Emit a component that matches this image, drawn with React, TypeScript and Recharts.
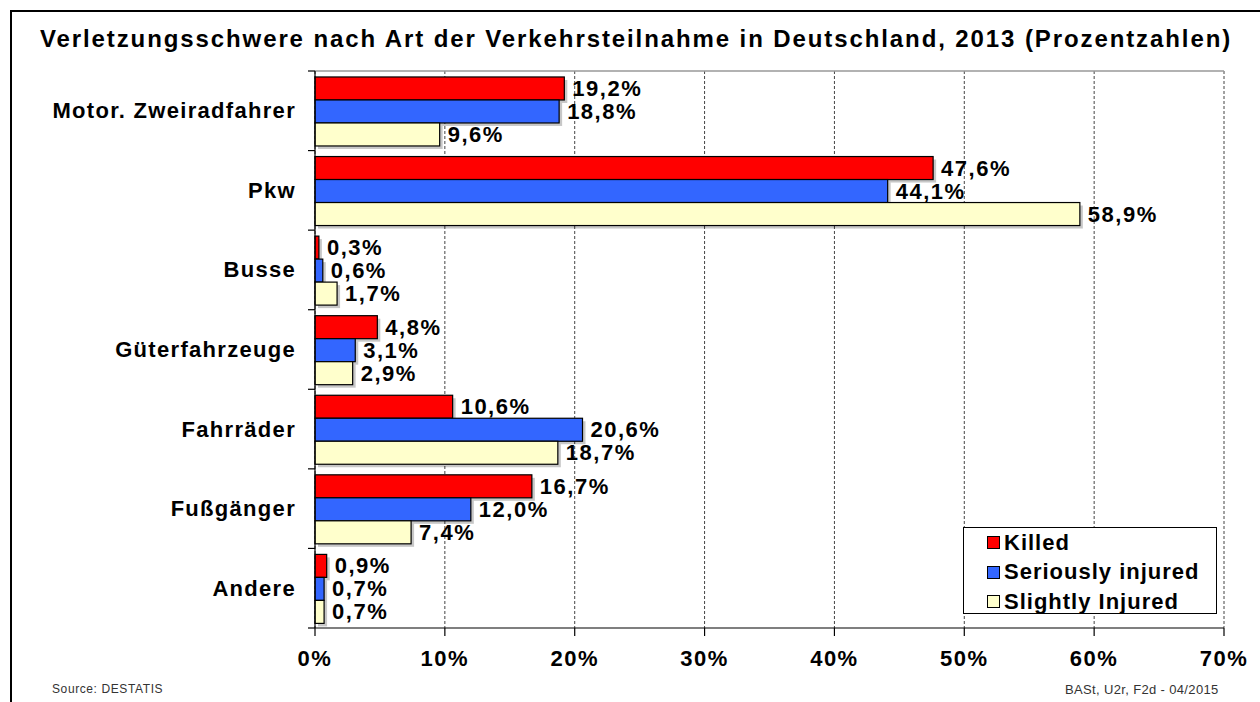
import React from "react";
import {
  BarChart,
  Bar,
  XAxis,
  YAxis,
  CartesianGrid,
  LabelList,
  Legend,
  ReferenceLine,
} from "recharts";

const categories = [
  "Motor. Zweiradfahrer",
  "Pkw",
  "Busse",
  "Güterfahrzeuge",
  "Fahrräder",
  "Fußgänger",
  "Andere",
];
const killed = [19.2, 47.6, 0.3, 4.8, 10.6, 16.7, 0.9];
const seriouslyInjured = [18.8, 44.1, 0.6, 3.1, 20.6, 12.0, 0.7];
const slightlyInjured = [9.6, 58.9, 1.7, 2.9, 18.7, 7.4, 0.7];
const xTicks = [0, 10, 20, 30, 40, 50, 60, 70];

const seriesNames = ["Killed", "Seriously injured", "Slightly Injured"];
const seriesColors = ["#FF0000", "#3366FF", "#FFFFCC"];

const data = categories.map((name, i) => ({
  name,
  killed: killed[i],
  serious: seriouslyInjured[i],
  slight: slightlyInjured[i],
}));

const FONT = "'Liberation Sans', Arial, sans-serif";
const W = 1260;
const H = 702;
const M = { top: 71, right: 36, bottom: 0, left: 0 };
const Y_AXIS_W = 315;
const X_AXIS_H = 74;
const Y_TICK_SIZE = 7;
const Y_TICK_MARGIN = 12;
const PLOT_H = H - M.top - M.bottom - X_AXIS_H;
const BAND = PLOT_H / categories.length;

const fmt = (v: number) => `${v.toFixed(1).replace(".", ",")}%`;

const ShadowBar = (props: any) => {
  const { x, y, width, height, fill } = props;
  if (width == null || height == null) return null;
  return (
    <g>
      <rect x={x + 3} y={y + 3} width={width} height={height} fill="#000" opacity={0.22} />
      <rect x={x} y={y} width={width} height={height} fill={fill} stroke="#000" strokeWidth={1.2} />
    </g>
  );
};

const ValueLabel = (props: any) => {
  const { x, y, width, height, value } = props;
  return (
    <text
      x={x + width + 8}
      y={y + height / 2}
      dominantBaseline="central"
      fontFamily={FONT}
      fontWeight="bold"
      fontSize={22}
      letterSpacing={1.5}
      fill="#000"
    >
      {fmt(value)}
    </text>
  );
};

const XTick = (props: any) => {
  const { x, y, payload } = props;
  return (
    <text
      x={x}
      y={y}
      dy={14}
      textAnchor="middle"
      dominantBaseline="central"
      fontFamily={FONT}
      fontWeight="bold"
      fontSize={22}
      letterSpacing={1.5}
      fill="#000"
    >
      {`${payload.value}%`}
    </text>
  );
};

const YTick = (props: any) => {
  const { x, y, payload, index } = props;
  const axisX = x + Y_TICK_SIZE + Y_TICK_MARGIN;
  return (
    <g>
      <line x1={axisX - 7} x2={axisX} y1={y - BAND / 2} y2={y - BAND / 2} stroke="#000" strokeWidth={1.2} />
      {index === categories.length - 1 && (
        <line x1={axisX - 7} x2={axisX} y1={y + BAND / 2} y2={y + BAND / 2} stroke="#000" strokeWidth={1.2} />
      )}
      <text
        x={x}
        y={y}
        textAnchor="end"
        dominantBaseline="central"
        fontFamily={FONT}
        fontWeight="bold"
        fontSize={22}
        letterSpacing={1.3}
        fill="#000"
      >
        {payload.value}
      </text>
    </g>
  );
};

const LegendBox = () => (
  <div
    style={{
      width: 254,
      height: 87,
      border: "1px solid #000",
      background: "#fff",
      boxSizing: "border-box",
      paddingTop: 0,
      paddingLeft: 23,
      fontFamily: FONT,
      fontWeight: "bold",
      fontSize: 22,
      color: "#000",
    }}
  >
    {seriesNames.map((n, i) => (
      <div key={n} style={{ display: "flex", alignItems: "center", height: 29.5, whiteSpace: "nowrap" }}>
        <span
          style={{
            display: "inline-block",
            width: 11,
            height: 11,
            background: seriesColors[i],
            border: "1px solid #000",
            marginRight: 4,
          }}
        />
        <span style={{ letterSpacing: 1 }}>{n}</span>
      </div>
    ))}
  </div>
);

export default function App() {
  return (
    <div style={{ position: "absolute", left: 0, top: 0, width: W, height: H, background: "#fff", overflow: "hidden" }}>
      <div style={{ position: "absolute", left: 11, top: 10, width: W, height: 2, background: "#000" }} />
      <div style={{ position: "absolute", left: 10, top: 10, width: 2, height: H, background: "#000" }} />
      <div
        style={{
          position: "absolute",
          left: 11,
          width: 1250,
          top: 25,
          textAlign: "center",
          fontFamily: FONT,
          fontWeight: "bold",
          fontSize: 24,
          letterSpacing: 1.9,
          color: "#000",
          whiteSpace: "nowrap",
        }}
      >
        Verletzungsschwere nach Art der Verkehrsteilnahme in Deutschland, 2013 (Prozentzahlen)
      </div>
      <div style={{ position: "absolute", left: 52, top: 682, fontFamily: FONT, fontSize: 12, letterSpacing: 0.6, color: "#333" }}>
        Source: DESTATIS
      </div>
      <div style={{ position: "absolute", left: 1065, top: 682, fontFamily: FONT, fontSize: 13, letterSpacing: 0.35, color: "#333" }}>
        BASt, U2r, F2d - 04/2015
      </div>
      <div style={{ position: "absolute", left: 0, top: 0 }}>
        <BarChart
          width={W}
          height={H}
          data={data}
          layout="vertical"
          margin={M}
          barCategoryGap="7.5%"
          barGap={0}
        >
          <CartesianGrid horizontal={false} vertical={true} stroke="#444" strokeDasharray="3 2" />
          <ReferenceLine y={categories[0]} position="start" stroke="#999" strokeWidth={1.5} ifOverflow="visible" />
          <XAxis
            type="number"
            domain={[0, 70]}
            ticks={xTicks}
            height={X_AXIS_H}
            tickSize={8}
            tickMargin={8}
            axisLine={{ stroke: "#000", strokeWidth: 1.2 }}
            tickLine={{ stroke: "#000", strokeWidth: 1.2 }}
            tick={<XTick />}
            interval={0}
          />
          <YAxis
            type="category"
            dataKey="name"
            width={Y_AXIS_W}
            tickSize={Y_TICK_SIZE}
            tickMargin={Y_TICK_MARGIN}
            tickLine={false}
            axisLine={{ stroke: "#000", strokeWidth: 1.2 }}
            tick={<YTick />}
            interval={0}
          />
          <Legend
            layout="vertical"
            align="center"
            verticalAlign="middle"
            content={() => <LegendBox />}
            wrapperStyle={{ left: 963, top: 527, width: 254, height: 87 }}
          />
          <Bar dataKey="killed" name={seriesNames[0]} fill={seriesColors[0]} shape={<ShadowBar />} isAnimationActive={false}>
            <LabelList dataKey="killed" content={<ValueLabel />} />
          </Bar>
          <Bar dataKey="serious" name={seriesNames[1]} fill={seriesColors[1]} shape={<ShadowBar />} isAnimationActive={false}>
            <LabelList dataKey="serious" content={<ValueLabel />} />
          </Bar>
          <Bar dataKey="slight" name={seriesNames[2]} fill={seriesColors[2]} shape={<ShadowBar />} isAnimationActive={false}>
            <LabelList dataKey="slight" content={<ValueLabel />} />
          </Bar>
        </BarChart>
      </div>
    </div>
  );
}
